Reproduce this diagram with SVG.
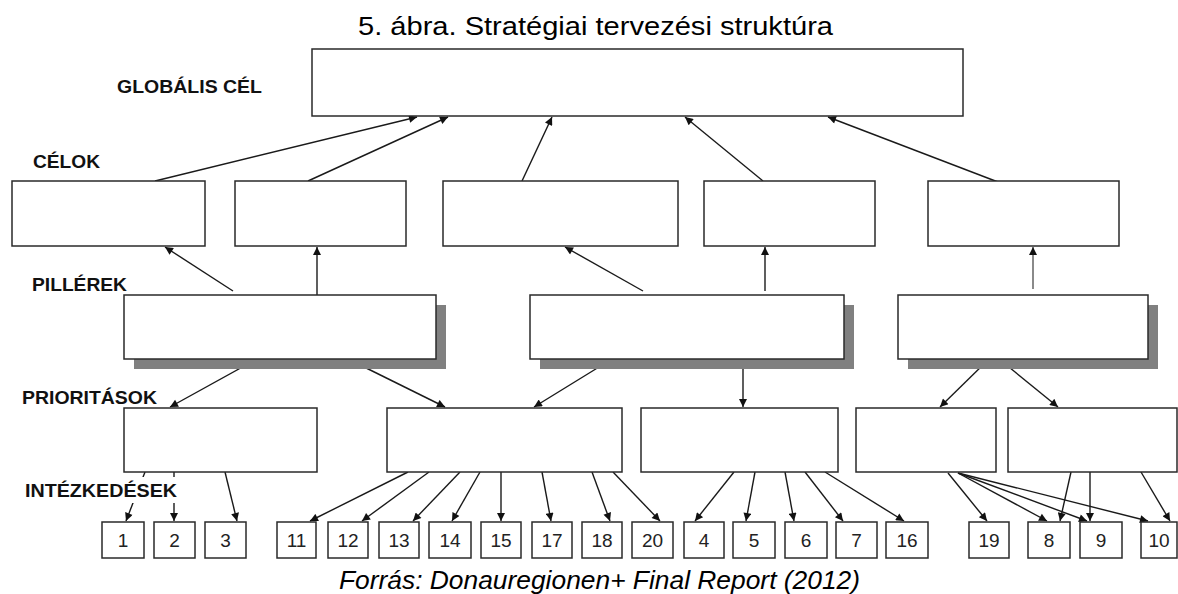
<svg xmlns="http://www.w3.org/2000/svg" width="1178" height="594" viewBox="0 0 1178 594">
<style>
.box{fill:#fff;stroke:#2a2a2a;stroke-width:1.5}
.shadow{fill:#808080}
.ln{stroke:#1a1a1a;stroke-width:1.4;fill:none;marker-end:url(#ah)}
.gl{stroke:#8a8a8a;stroke-width:2;fill:none;marker-end:url(#ahg)}
.lvl{font-family:"Liberation Sans",Arial,sans-serif;font-weight:bold;font-size:19px;fill:#111}
.num{font-family:"Liberation Sans",Arial,sans-serif;font-size:19px;fill:#222;text-anchor:middle}
.title{font-family:"Liberation Sans",Arial,sans-serif;font-size:25px;fill:#000}
</style>
<defs>
<marker id="ah" viewBox="0 0 10 10" refX="10" refY="5" markerWidth="10" markerHeight="8" markerUnits="userSpaceOnUse" orient="auto"><path d="M0,0 L10,5 L0,10 z" fill="#111"/></marker>
<marker id="ahg" viewBox="0 0 10 10" refX="10" refY="5" markerWidth="10" markerHeight="8" markerUnits="userSpaceOnUse" orient="auto"><path d="M0,0 L10,5 L0,10 z" fill="#111"/></marker>
</defs>
<rect width="1178" height="594" fill="#fff"/>
<text class="title" x="358" y="35" textLength="475" lengthAdjust="spacingAndGlyphs">5. ábra. Stratégiai tervezési struktúra</text>

<g id="connectors">
<line class="ln" x1="155" y1="181" x2="417" y2="117"/>
<line class="ln" x1="308" y1="181" x2="448" y2="117"/>
<line class="ln" x1="522" y1="181" x2="552" y2="117"/>
<line class="ln" x1="763" y1="181" x2="685" y2="117"/>
<line class="ln" x1="998" y1="182" x2="828" y2="117"/>
<line class="ln" x1="233" y1="291" x2="165" y2="247"/>
<line class="ln" x1="317" y1="295" x2="317" y2="247"/>
<line class="ln" x1="643" y1="291" x2="565" y2="247"/>
<line class="ln" x1="765" y1="291" x2="765" y2="247"/>
<line class="gl" x1="1033" y1="289" x2="1033" y2="247"/>
<line class="ln" x1="257" y1="359" x2="170" y2="407"/>
<line class="ln" x1="348" y1="359" x2="445" y2="407"/>
<line class="ln" x1="612" y1="359" x2="534" y2="407"/>
<line class="ln" x1="743" y1="359" x2="743" y2="407"/>
<line class="ln" x1="989" y1="359" x2="940" y2="407"/>
<line class="ln" x1="999" y1="359" x2="1058" y2="407"/>
<line class="ln" x1="145" y1="472" x2="126" y2="521"/>
<line class="ln" x1="174" y1="472" x2="174" y2="521"/>
<line class="ln" x1="225" y1="472" x2="237" y2="521"/>
<line class="ln" x1="408" y1="472" x2="310" y2="521"/>
<line class="ln" x1="429" y1="472" x2="362" y2="521"/>
<line class="ln" x1="460" y1="472" x2="413" y2="521"/>
<line class="ln" x1="480" y1="472" x2="452" y2="521"/>
<line class="ln" x1="501" y1="472" x2="501" y2="521"/>
<line class="ln" x1="542" y1="472" x2="551" y2="521"/>
<line class="ln" x1="592" y1="472" x2="610" y2="521"/>
<line class="ln" x1="613" y1="472" x2="660" y2="521"/>
<line class="ln" x1="734" y1="472" x2="695" y2="521"/>
<line class="ln" x1="755" y1="472" x2="746" y2="521"/>
<line class="ln" x1="785" y1="472" x2="794" y2="521"/>
<line class="ln" x1="805" y1="472" x2="843" y2="521"/>
<line class="ln" x1="825" y1="472" x2="904" y2="521"/>
<line class="ln" x1="948" y1="473" x2="987" y2="521"/>
<line class="ln" x1="958" y1="473" x2="1047" y2="521"/>
<line class="ln" x1="958" y1="473" x2="1087" y2="521"/>
<line class="ln" x1="958" y1="473" x2="1148" y2="521"/>
<line class="ln" x1="1071" y1="472" x2="1060" y2="521"/>
<line class="ln" x1="1090" y1="472" x2="1090" y2="521"/>
<line class="ln" x1="1141" y1="472" x2="1170" y2="521"/>
</g>

<g id="global"><rect class="box" x="312" y="49" width="651" height="67"/></g>

<g id="goal1"><rect class="box" x="12" y="181" width="193" height="65"/></g>
<g id="goal2"><rect class="box" x="235" y="181" width="171" height="65"/></g>
<g id="goal3"><rect class="box" x="443" y="181" width="235" height="65"/></g>
<g id="goal4"><rect class="box" x="704" y="181" width="171" height="65"/></g>
<g id="goal5"><rect class="box" x="928" y="181" width="191" height="65"/></g>

<g id="pillar1"><rect class="shadow" x="134" y="305" width="312" height="64"/><rect class="box" x="124" y="295" width="312" height="64"/></g>
<g id="pillar2"><rect class="shadow" x="540" y="305" width="314" height="64"/><rect class="box" x="530" y="295" width="314" height="64"/></g>
<g id="pillar3"><rect class="shadow" x="908" y="305" width="250" height="64"/><rect class="box" x="898" y="295" width="250" height="64"/></g>

<g id="prio1"><rect class="box" x="124" y="408" width="193" height="64"/></g>
<g id="prio2"><rect class="box" x="387" y="408" width="235" height="64"/></g>
<g id="prio3"><rect class="box" x="641" y="408" width="197" height="64"/></g>
<g id="prio4"><rect class="box" x="856" y="408" width="140" height="64"/></g>
<g id="prio5"><rect class="box" x="1008" y="408" width="169" height="64"/></g>

<g id="a1"><rect class="box" x="102" y="522" width="42" height="36"/><text class="num" x="123" y="547">1</text></g>
<g id="a2"><rect class="box" x="154" y="522" width="41" height="36"/><text class="num" x="174.5" y="547">2</text></g>
<g id="a3"><rect class="box" x="205" y="522" width="41" height="36"/><text class="num" x="225.5" y="547">3</text></g>
<g id="a11"><rect class="box" x="277" y="522" width="39" height="36"/><text class="num" x="296.5" y="547">11</text></g>
<g id="a12"><rect class="box" x="328" y="522" width="40" height="36"/><text class="num" x="348" y="547">12</text></g>
<g id="a13"><rect class="box" x="379" y="522" width="40" height="36"/><text class="num" x="399" y="547">13</text></g>
<g id="a14"><rect class="box" x="429" y="522" width="42" height="36"/><text class="num" x="450" y="547">14</text></g>
<g id="a15"><rect class="box" x="481" y="522" width="40" height="36"/><text class="num" x="501" y="547">15</text></g>
<g id="a17"><rect class="box" x="532" y="522" width="40" height="36"/><text class="num" x="552" y="547">17</text></g>
<g id="a18"><rect class="box" x="582" y="522" width="40" height="36"/><text class="num" x="602" y="547">18</text></g>
<g id="a20"><rect class="box" x="632" y="522" width="41" height="36"/><text class="num" x="652.5" y="547">20</text></g>
<g id="a4"><rect class="box" x="684" y="522" width="40" height="36"/><text class="num" x="704" y="547">4</text></g>
<g id="a5"><rect class="box" x="733" y="522" width="42" height="36"/><text class="num" x="754" y="547">5</text></g>
<g id="a6"><rect class="box" x="785" y="522" width="42" height="36"/><text class="num" x="806" y="547">6</text></g>
<g id="a7"><rect class="box" x="836" y="522" width="41" height="36"/><text class="num" x="856.5" y="547">7</text></g>
<g id="a16"><rect class="box" x="886" y="522" width="42" height="36"/><text class="num" x="907" y="547">16</text></g>
<g id="a19"><rect class="box" x="969" y="522" width="40" height="36"/><text class="num" x="989" y="547">19</text></g>
<g id="a8"><rect class="box" x="1028" y="522" width="42" height="36"/><text class="num" x="1049" y="547">8</text></g>
<g id="a9"><rect class="box" x="1080" y="522" width="42" height="36"/><text class="num" x="1101" y="547">9</text></g>
<g id="a10"><rect class="box" x="1141" y="522" width="36" height="36"/><text class="num" x="1159" y="547">10</text></g>

<g id="labels">
<text class="lvl" x="117" y="93" textLength="145" lengthAdjust="spacingAndGlyphs">GLOBÁLIS CÉL</text>
<text class="lvl" x="33" y="168" textLength="67" lengthAdjust="spacingAndGlyphs">CÉLOK</text>
<text class="lvl" x="32" y="291" textLength="95" lengthAdjust="spacingAndGlyphs">PILLÉREK</text>
<text class="lvl" x="22" y="404" textLength="135" lengthAdjust="spacingAndGlyphs">PRIORITÁSOK</text>
<rect x="24" y="477" width="156" height="26" fill="#fff"/>
<text class="lvl" x="25" y="497" textLength="152" lengthAdjust="spacingAndGlyphs">INTÉZKEDÉSEK</text>
</g>

<text class="title" x="339" y="589" font-style="italic" textLength="521" lengthAdjust="spacingAndGlyphs">Forrás: Donauregionen+ Final Report (2012)</text>
</svg>
